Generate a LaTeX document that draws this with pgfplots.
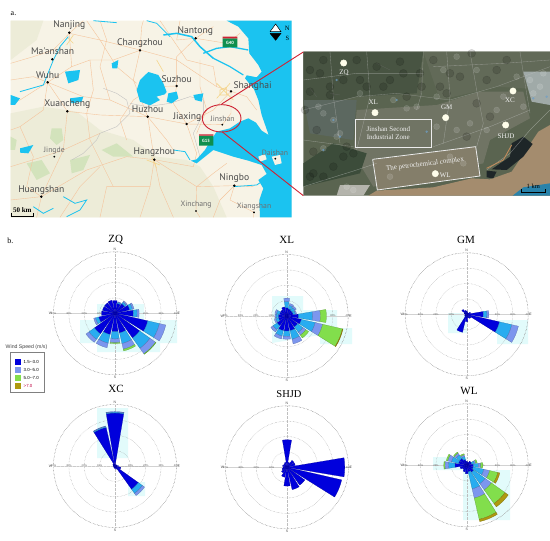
\documentclass[border=0pt]{standalone}
\usepackage{fontspec}
\usepackage{pgfplots}
\usepackage{pgfplotstable}
\usepgfplotslibrary{polar}
\pgfplotsset{compat=1.18}
\setmainfont{Liberation Serif}
\newfontfamily\mapfont{PT Sans}
\newfontfamily\legfont{Liberation Sans}

\definecolor{land}{HTML}{F7F3E6}
\definecolor{hill}{HTML}{EDECD8}
\definecolor{green1}{HTML}{D3E3BC}
\definecolor{sea}{HTML}{1BC3F0}
\definecolor{road}{HTML}{F5C49C}
\definecolor{urban}{HTML}{F5D58A}
\definecolor{cityt}{HTML}{4A4A4A}
\definecolor{shield}{HTML}{0E8F4E}
\definecolor{linered}{HTML}{CE2233}
\definecolor{ws1}{HTML}{0000DC}
\definecolor{ws2a}{HTML}{28ACF0}
\definecolor{ws2b}{HTML}{7C96EE}
\definecolor{ws3}{HTML}{82DE4C}
\definecolor{ws4}{HTML}{AE9A10}
\definecolor{patch}{HTML}{E2FBFB}
\definecolor{sb}{HTML}{5A6450}

% cumulative radii (percent) per compass direction
\pgfplotstableread{
dir r1 r2 r3 r4
0 8.3 8.3 8.3 8.3
22.5 6.6 7.7 7.7 7.7
45 7.7 9.8 9.8 9.8
67.5 9.8 12.7 12.7 12.7
90 12 15.7 15.7 15.7
112.5 21.9 33.9 33.9 33.9
135 19.7 32.4 32.8 32.8
157.5 13.1 24 25.1 25.1
180 12 19.2 19.7 19.7
202.5 14.2 23 23 23
225 16.4 23.2 23.2 23.2
247.5 10.9 14.2 14.2 14.2
270 8.7 8.7 8.7 8.7
292.5 8.3 8.3 8.3 8.3
315 8.3 8.3 8.3 8.3
337.5 8.7 8.7 8.7 8.7
}\tabZQ
\pgfplotstableread{
dir r1 r2 r3 r4
0 5.5 11.6 11.6 11.6
22.5 4.8 8.3 8.3 8.3
45 4.4 7.7 7.7 7.7
67.5 4.4 6.6 6.6 6.6
90 7.7 21.9 25.8 25.8
112.5 9.8 24 37.2 37.6
135 8.7 15.3 17.5 17.5
157.5 9.8 18.6 18.6 18.6
180 9.8 15.1 15.1 15.1
202.5 9.8 15.3 15.3 15.3
225 7.7 12.7 12.7 12.7
247.5 5.5 8.3 8.3 8.3
270 5.5 7.7 7.7 7.7
292.5 4.8 7.9 7.9 7.9
315 4.8 4.8 4.8 4.8
337.5 6.1 6.1 6.1 6.1
}\tabXL
\pgfplotstableread{
dir r1 r2 r3 r4
0 2.2 2.2 2.2 2.2
22.5 1.3 1.3 1.3 1.3
45 1.1 1.1 1.1 1.1
67.5 2.6 2.6 2.6 2.6
90 10.9 14.4 14.4 14.4
112.5 21.9 34.5 34.5 34.5
135 3.3 3.3 3.3 3.3
157.5 2.6 2.6 2.6 2.6
180 4.8 4.8 4.8 4.8
202.5 12 12 12 12
225 1.7 1.7 1.7 1.7
247.5 1.3 1.3 1.3 1.3
270 1.1 1.1 1.1 1.1
292.5 1.7 1.7 1.7 1.7
315 3.9 3.9 3.9 3.9
337.5 2.6 2.6 2.6 2.6
}\tabGM
\pgfplotstableread{
dir r1 r2 r3 r4
0 34.5 35.4 35.4 35.4
22.5 .9 .9 .9 .9
45 1.1 1.1 1.1 1.1
67.5 1.3 1.3 1.3 1.3
90 2.2 2.2 2.2 2.2
112.5 3.9 3.9 3.9 3.9
135 18.6 23.6 23.6 23.6
157.5 2.2 2.2 2.2 2.2
180 1.7 1.7 1.7 1.7
202.5 1.3 1.3 1.3 1.3
225 1.1 1.1 1.1 1.1
247.5 .9 .9 .9 .9
270 1.1 1.1 1.1 1.1
292.5 1.3 1.3 1.3 1.3
315 1.7 1.7 1.7 1.7
337.5 25.8 26.7 26.7 26.7
}\tabXC
\pgfplotstableread{
dir r1 r2 r3 r4
0 17.9 17.9 17.9 17.9
22.5 3.3 3.3 3.3 3.3
45 5.5 5.5 5.5 5.5
67.5 5.5 5.5 5.5 5.5
90 37.6 37.6 37.6 37.6
112.5 36.5 36.5 36.5 36.5
135 14.2 14.2 14.2 14.2
157.5 14.9 14.9 14.9 14.9
180 12.2 12.2 12.2 12.2
202.5 6.6 6.6 6.6 6.6
225 4.4 4.4 4.4 4.4
247.5 3.3 3.3 3.3 3.3
270 2.6 2.6 2.6 2.6
292.5 3 3 3 3
315 2.6 2.6 2.6 2.6
337.5 3.3 3.3 3.3 3.3
}\tabSHJD
\pgfplotstableread{
dir r1 r2 r3 r4
0 2.6 2.6 2.6 2.6
22.5 2.2 2.2 2.2 2.2
45 3.3 3.3 3.3 3.3
67.5 3.3 6.1 7 7
90 4.4 9.2 10.5 10.5
112.5 4.4 15.3 20.8 22.1
135 5.5 19.7 30.6 33.2
157.5 4.4 21.9 36.1 37.6
180 5.5 5.5 5.5 5.5
202.5 4.4 4.4 4.4 4.4
225 3.3 3.3 3.3 3.3
247.5 4.4 4.4 4.4 4.4
270 7.7 14.2 14.9 14.9
292.5 5.5 12.7 13.6 13.6
315 5.5 9.8 10.5 10.5
337.5 3.9 7 7.7 7.7
}\tabWL

% one ring segment of a sector: {dir}{from}{to}{colour}
\newcommand\band[4]{%
  \ifdim #2pt<#3pt
    \pgfmathsetmacro\aa{450-#1-9.5}\pgfmathsetmacro\ab{450-#1-4.75}%
    \pgfmathsetmacro\ac{450-#1}\pgfmathsetmacro\ad{450-#1+4.75}%
    \pgfmathsetmacro\ae{450-#1+9.5}%
    \addplot[fill=#4,draw=#4!70!black,line width=0.2pt] coordinates {
      (\aa,#2) (\aa,#3) (\ab,#3) (\ac,#3) (\ad,#3) (\ae,#3) (\ae,#2)
      (\ad,#2) (\ac,#2) (\ab,#2) (\aa,#2)};
  \fi}
\newcommand\roses[1]{%
  \addplot[gray!35,line width=0.6pt,no markers] coordinates {(180,40)(180,0)(0,0)(0,40)};
  \node[rl] at (axis cs:180,10) {10\%};\node[rl] at (axis cs:180,20) {20\%};
  \node[rl] at (axis cs:180,30) {30\%};\node[rl] at (axis cs:180,40) {40\%};
  \node[rl] at (axis cs:0,10) {10\%};\node[rl] at (axis cs:0,20) {20\%};
  \node[rl] at (axis cs:0,30) {30\%};\node[rl] at (axis cs:0,40) {40\%};
  \pgfplotsforeachungrouped \i in {0,...,15}{%
    \pgfplotstablegetelem{\i}{dir}\of#1\let\vd\pgfplotsretval
    \pgfplotstablegetelem{\i}{r1}\of#1\let\va\pgfplotsretval
    \pgfplotstablegetelem{\i}{r2}\of#1\let\vb\pgfplotsretval
    \pgfplotstablegetelem{\i}{r3}\of#1\let\vc\pgfplotsretval
    \pgfplotstablegetelem{\i}{r4}\of#1\let\ve\pgfplotsretval
    \pgfmathsetmacro\vm{\va+0.65*(\vb-\va)}%
    \band{\vd}{0.3}{\va}{ws1}%
    \band{\vd}{\va}{\vm}{ws2a}%
    \band{\vd}{\vm}{\vb}{ws2b}%
    \band{\vd}{\vb}{\vc}{ws3}%
    \band{\vd}{\vc}{\ve}{ws4}%
  }%
}
\tikzset{rl/.style={font=\legfont\fontsize{2.6}{3}\selectfont,text=gray!70!black,inner sep=0.3pt}}
\pgfplotsset{
  windrose/.style={
    scale only axis,width=123pt,height=123pt,anchor=center,
    xmin=0,xmax=360,ymin=0,ymax=40,clip=false,
    xtick={0,90,180,270},xticklabels={E,N,W,S},
    ytick={10,20,30,40},yticklabels={},
    x tick label style={font=\legfont\fontsize{3.5}{4}\selectfont,text=gray!60!black,inner sep=1pt},
    grid=both,
    x grid style={gray!50,line width=0.35pt,densely dotted},
    y grid style={gray!80,line width=0.4pt,densely dotted},
    major tick length=0pt,
    axis line style={gray!80,line width=0.4pt,densely dotted},
  },
  mapaxis/.style={scale only axis,hide axis,y dir=reverse,clip=true},
  rd/.style={road,line width=0.4pt,no markers},
  ub/.style={urban,line width=0.6pt,no markers},
  rv/.style={sea,line width=0.8pt,no markers},
  lk/.style={fill=sea,draw=none,no markers},
  cdot/.style={only marks,mark=*,mark size=1pt,black,mark options={fill=black}},
  sr/.style={line width=0.35pt,no markers,opacity=.45},
}

\begin{document}
\begin{tikzpicture}
\path[use as bounding box] (0pt,0pt) rectangle (550pt,541pt);

% page level axis in pixel coordinates: labels, patches, legend
\begin{axis}[at={(0pt,0pt)},anchor=south west,scale only axis,hide axis,y dir=reverse,
  width=550pt,height=541pt,xmin=0,xmax=550,ymin=0,ymax=541,clip=false]
\addplot[fill=patch,draw=none] coordinates {(97,304)(144,304)(144,320)(177,320)(177,343)(160,343)(160,352)(97,352)(97,343)(80,343)(80,320)(97,320)(97,304)};
\addplot[fill=patch,draw=none] coordinates {(272,296)(303,296)(303,310)(337,310)(337,328)(352,328)(352,344)(320,344)(320,335)(272,343)(272,296)};
\addplot[fill=patch,draw=none] coordinates {(448,313)(467,313)(467,333)(448,333)(448,313)};
\addplot[fill=patch,draw=none] coordinates {(497,320)(528,320)(528,344)(497,344)(497,320)};
\addplot[fill=patch,draw=none] coordinates {(97,408)(128,408)(128,458)(97,458)(97,408)};
\addplot[fill=patch,draw=none] coordinates {(128,482)(145,482)(145,496)(128,496)(128,482)};
\addplot[fill=patch,draw=none] coordinates {(433,457)(467,457)(467,470)(433,470)(433,457)};
\addplot[fill=patch,draw=none] coordinates {(463,470)(510,470)(510,520)(463,520)(463,470)};

\node[font=\fontsize{8}{9}\selectfont] at (13.5,13.5) {a.};
\node[font=\fontsize{8}{9}\selectfont] at (10.5,241) {b.};
\node[font=\fontsize{11}{12}\selectfont] at (115.7,240) {ZQ};
\node[font=\fontsize{11}{12}\selectfont] at (286.7,239.5) {XL};
\node[font=\fontsize{11}{12}\selectfont] at (466,239.5) {GM};
\node[font=\fontsize{11}{12}\selectfont] at (116,389) {XC};
\node[font=\fontsize{10.5}{11}\selectfont,inner sep=0pt] at (289,394) {SHJD};
\node[font=\fontsize{11}{12}\selectfont] at (469,391) {WL};

% legend
\node[font=\legfont\fontsize{5.2}{6}\selectfont,text=black!75] at (26.5,346.7) {Wind Speed (m/s)};
\draw[gray,line width=0.5pt,fill=white] (axis cs:10,352) rectangle (axis cs:44.3,392.5);
\addplot[only marks,mark=square*,mark size=2.4pt,ws1] coordinates {(17.3,362)};
\addplot[only marks,mark=square*,mark size=2.4pt,ws2b] coordinates {(17.3,370)};
\addplot[only marks,mark=square*,mark size=2.4pt,ws3] coordinates {(17.3,378)};
\addplot[only marks,mark=square*,mark size=2.4pt,ws4] coordinates {(17.3,386)};
\node[font=\legfont\fontsize{4.4}{5}\selectfont,anchor=west,inner sep=0pt] at (23.5,362) {1.5--3.0};
\node[font=\legfont\fontsize{4.4}{5}\selectfont,anchor=west,inner sep=0pt] at (23.5,370) {3.0--5.0};
\node[font=\legfont\fontsize{4.4}{5}\selectfont,anchor=west,inner sep=0pt] at (23.5,378) {5.0--7.0};
\node[font=\legfont\fontsize{4.4}{5}\selectfont,anchor=west,inner sep=0pt,text=purple] at (23.5,386) {>7.0};
\end{axis}

% map, in coordinates of a 3x crop
\begin{axis}[mapaxis,at={(10.67pt,323.67pt)},anchor=south west,width=281pt,height=196.67pt,
  xmin=32,xmax=875,ymin=62,ymax=652]
\addplot[fill=land,draw=none] coordinates {(32,62)(875,62)(875,652)(32,652)(32,62)};
\addplot[fill=hill,draw=none] coordinates {(32,340)(130,320)(230,335)(300,390)(400,420)(470,470)(560,480)(600,500)(640,560)(680,652)(32,652)(32,340)};
\addplot[fill=hill,draw=none] coordinates {(32,62)(130,62)(110,120)(32,180)(32,62)};
\addplot[fill=green1,draw=none] coordinates {(155,385)(185,385)(190,420)(170,435)(150,415)(155,385)};
\addplot[fill=green1,draw=none] coordinates {(305,450)(350,430)(400,470)(340,470)(305,450)};
\addplot[fill=green1,draw=none] coordinates {(80,490)(125,480)(150,520)(110,540)(80,490)};
\addplot[fill=green1,draw=none] coordinates {(210,480)(270,465)(250,510)(215,520)(210,480)};
\addplot[fill=green1,draw=none] coordinates {(32,410)(50,420)(45,450)(32,450)(32,410)};
% roads
\addplot[rd] coordinates {(32,190)(100,170)(160,150)(208,100)(250,62)};
\addplot[rd] coordinates {(208,100)(300,120)(420,150)(530,180)(650,260)(693,274)};
\addplot[rd] coordinates {(143,247)(202,334)(300,345)(443,350)(560,372)(640,330)(693,274)};
\addplot[rd] coordinates {(208,100)(215,200)(143,247)(60,300)(32,310)};
\addplot[rd] coordinates {(420,151)(425,80)(430,62)};
\addplot[rd] coordinates {(420,151)(400,240)(443,350)(463,479)(450,560)(420,652)};
\addplot[rd] coordinates {(530,258)(520,310)(560,372)(590,460)(580,500)(463,479)};
\addplot[rd] coordinates {(463,479)(380,470)(260,510)(124,590)(32,600)};
\addplot[rd] coordinates {(202,334)(190,450)(124,590)(110,652)};
\addplot[rd] coordinates {(463,479)(590,560)(703,557)(760,560)};
\addplot[rd] coordinates {(703,557)(690,600)(762,637)(760,652)};
\addplot[rd] coordinates {(590,560)(588,633)(600,652)};
\addplot[rd] coordinates {(587,115)(530,170)(530,258)};
\addplot[rd] coordinates {(587,115)(680,130)(720,100)};
\addplot[rd] coordinates {(300,62)(320,120)(300,200)(330,300)};
\addplot[rd] coordinates {(693,274)(740,290)(770,330)};
\addplot[rd] coordinates {(650,260)(640,200)(560,180)(480,62)};
\addplot[rd] coordinates {(32,500)(130,470)(190,450)(300,400)};
\addplot[rd] coordinates {(560,372)(667,374)(693,340)(693,274)};
\addplot[rd] coordinates {(300,652)(320,560)(450,560)};
\addplot[rd] coordinates {(32,240)(100,230)(143,247)(250,290)(330,300)(443,350)};
\addplot[rd] coordinates {(260,62)(300,120)(350,200)(410,250)};
\addplot[rd] coordinates {(540,62)(530,120)(587,115)(640,80)};
\addplot[rd] coordinates {(600,180)(600,260)(620,330)(590,400)};
\addplot[rd] coordinates {(420,151)(340,180)(270,180)(215,200)};
\addplot[rd] coordinates {(270,180)(280,270)(260,340)(270,420)(310,500)(340,560)};
\addplot[rd] coordinates {(143,247)(130,330)(60,380)(32,390)};
\addplot[rd] coordinates {(60,380)(100,470)(80,560)(124,590)};
\addplot[rd] coordinates {(463,479)(480,560)(520,652)};
\addplot[rd] coordinates {(590,560)(640,520)(680,490)};
\addplot[rd] coordinates {(703,557)(660,600)(640,652)};
\addplot[rd] coordinates {(180,652)(240,560)(300,500)};
\addplot[rd] coordinates {(380,420)(360,360)(400,300)(460,260)(530,258)};
\addplot[rd] coordinates {(443,350)(500,420)(520,450)};
\addplot[ub] coordinates {(660,270)(660,285)(680,285)(680,262)(660,270)};
\addplot[ub] coordinates {(650,250)(700,300)};
\addplot[ub] coordinates {(690,250)(650,295)};
\addplot[ub] coordinates {(200,110)(220,130)};
\addplot[ub] coordinates {(220,105)(200,135)};
\addplot[ub] coordinates {(440,480)(480,495)};
\addplot[ub] coordinates {(455,470)(470,505)};
\addplot[ub] coordinates {(470,180)(490,215)};
\addplot[gray!50,line width=0.35pt,no markers] coordinates {(310,265)(350,280)(380,300)(390,340)(350,380)(300,400)(290,420)(250,460)(215,480)};
\addplot[gray!50,line width=0.35pt,no markers] coordinates {(600,470)(580,400)(610,340)(610,300)(570,290)(510,310)(440,320)(390,310)};
% sea, estuary, bay
\addplot[lk] coordinates {(680,62)(715,80)(745,115)(748,160)(775,195)(785,215)(770,232)(740,226)(735,235)(762,268)(775,300)(785,345)(806,405)(785,392)(768,368)(745,355)(720,365)(690,385)(650,395)(630,425)(615,450)(590,478)(572,482)(590,490)(640,450)(700,470)(745,482)(785,495)(800,522)(775,540)(790,565)(778,600)(780,652)(875,652)(875,62)(680,62)};
\addplot[fill=land,draw=none] coordinates {(632,150)(690,165)(750,195)(778,220)(745,222)(690,190)(640,170)(632,150)};
\addplot[fill=land,draw=none] coordinates {(775,470)(795,462)(800,478)(780,485)(775,470)};
\addplot[fill=land,draw=none] coordinates {(815,470)(840,465)(845,490)(825,495)(815,470)};
\addplot[fill=land,draw=none] coordinates {(700,490)(745,495)(740,510)(715,505)(700,490)};
\addplot[rv,line width=1.5pt] coordinates {(490,105)(530,100)(575,110)(600,140)(640,175)};
\addplot[rv,line width=1.3pt] coordinates {(610,160)(650,145)(690,140)(745,150)};
\addplot[rv,line width=1.2pt] coordinates {(640,175)(690,200)(730,225)};
% lakes
\addplot[lk] coordinates {(420,240)(445,216)(475,225)(490,250)(500,276)(480,300)(450,316)(420,305)(410,270)(420,240)};
\addplot[fill=land,draw=none] coordinates {(470,290)(500,282)(510,290)(485,305)(470,290)};
\addplot[lk] coordinates {(505,280)(530,275)(535,295)(515,310)(500,305)(505,280)};
\addplot[lk] coordinates {(195,215)(240,210)(235,240)(205,250)(195,215)};
\addplot[lk] coordinates {(335,190)(355,180)(352,205)(337,205)(335,190)};
\addplot[lk] coordinates {(210,295)(250,290)(245,305)(215,310)(210,295)};
\addplot[lk] coordinates {(32,285)(60,295)(45,315)(32,315)(32,285)};
\addplot[lk] coordinates {(60,445)(100,435)(85,460)(60,458)(60,445)};
\addplot[lk] coordinates {(580,285)(610,280)(605,305)(585,300)(580,285)};
\addplot[rv] coordinates {(205,110)(180,140)(160,180)(130,255)(60,275)};
\addplot[rv] coordinates {(280,62)(350,68)};
\addplot[rv] coordinates {(440,62)(470,70)(510,110)};
\addplot[rv] coordinates {(190,590)(225,610)(260,600)(240,630)(200,650)};
\addplot[rv] coordinates {(520,450)(555,455)(570,480)};
\addplot[rv] coordinates {(700,560)(770,555)(785,545)};
\addplot[rv] coordinates {(100,620)(130,640)(160,625)};
% green shields
\addplot[fill=shield,draw=none] coordinates {(668,115)(712,115)(712,142)(668,142)(668,115)};
\addplot[fill=linered,draw=none] coordinates {(668,110)(712,110)(712,115)(668,115)(668,110)};
\addplot[fill=shield,draw=none] coordinates {(597,407)(640,407)(640,437)(597,437)(597,407)};
\addplot[fill=linered,draw=none] coordinates {(597,403)(640,403)(640,407)(597,407)(597,403)};
\node[text=white,font=\mapfont\bfseries\fontsize{4.5}{5}\selectfont] at (690,130) {G40};
\node[text=white,font=\mapfont\bfseries\fontsize{4.5}{5}\selectfont] at (618,423) {G15};
% north arrow
\addplot[fill=white,draw=black,line width=0.5pt] coordinates {(810,95)(827,72)(843,95)(810,95)};
\addplot[fill=black,draw=black] coordinates {(810,100)(843,100)(827,121)(810,100)};
\node[font=\fontsize{6.5}{7}\selectfont] at (862,86) {N};
\node[font=\fontsize{6.5}{7}\selectfont] at (862,114) {S};
% scale
\addplot[black,line width=0.6pt,no markers] coordinates {(35,638)(35,650)(100,650)(100,638)};
\node[font=\fontsize{7}{8}\selectfont\bfseries] at (67,630) {50 km};
% cities
\addplot[cdot] coordinates {(208,98)(587,115)(420,151)(157,178)(143,247)(530,258)(693,274)(202,334)(443,350)(560,372)(124,590)(463,479)(703,557)};
\addplot[cdot,mark size=0.7pt] coordinates {(667,374)(163,470)(826,476)(588,633)(762,637)};
\foreach \x/\y/\t in {208/76/Nanjing,586/92/Nantong,420/128/Changzhou,158/155/Ma'anshan,143/225/Wuhu,530/236/Suzhou,758/258/Shanghai,202/312/Xuancheng,443/328/Huzhou,562/350/Jiaxing,463/457/Hangzhou,703/535/Ningbo,124/570/Huangshan}{
  \edef\tmp{\noexpand\node[text=cityt,font=\noexpand\mapfont\noexpand\fontsize{9.6}{10}\noexpand\selectfont,inner sep=0pt] at (axis cs:\x,\y) {\t};}\tmp}
\foreach \x/\y/\t in {668/357/Jinshan,163/452/Jingde,825/457/Daishan,588/615/Xinchang,762/620/Xiangshan}{
  \edef\tmp{\noexpand\node[text=cityt!80,font=\noexpand\mapfont\noexpand\fontsize{7.7}{8}\noexpand\selectfont,inner sep=0pt] at (axis cs:\x,\y) {\t};}\tmp}
\draw[linered,line width=0.9pt] (axis cs:665,355) ellipse [x radius=58,y radius=41];
\end{axis}

% satellite picture, in coordinates of a 3x crop
\begin{axis}[mapaxis,at={(303.33pt,345.33pt)},anchor=south west,width=246.67pt,height=144pt,
  xmin=40,xmax=780,ymin=65,ymax=497]
\addplot[fill=sb,draw=none] coordinates {(40,65)(780,65)(780,497)(40,497)(40,65)};
\addplot[fill={rgb,255:red,72;green,84;blue,66},draw=none] coordinates {(40,65)(400,65)(380,190)(200,200)(40,240)(40,65)};
\addplot[fill={rgb,255:red,98;green,106;blue,88},draw=none] coordinates {(400,65)(780,65)(780,180)(620,170)(450,210)(400,65)};
\addplot[fill={rgb,255:red,112;green,116;blue,100},draw=none] coordinates {(200,240)(440,225)(570,185)(700,185)(720,265)(600,330)(580,400)(250,470)(190,370)(200,240)};
\addplot[fill={rgb,255:red,92;green,104;blue,96},draw=none] coordinates {(40,210)(200,210)(190,330)(60,310)(40,210)};
\addplot[fill={rgb,255:red,60;green,76;blue,58},draw=none] coordinates {(40,400)(130,340)(230,370)(210,430)(40,470)(40,400)};
\addplot[fill={rgb,255:red,132;green,126;blue,106},draw=none] coordinates {(250,390)(556,350)(570,438)(262,480)(250,390)};
\addplot[fill={rgb,255:red,160;green,170;blue,168},draw=none] coordinates {(700,125)(780,125)(780,225)(725,215)(700,125)};
\addplot[fill={rgb,255:red,180;green,180;blue,172},draw=none] coordinates {(150,465)(240,465)(220,497)(140,497)(150,465)};
\addplot[fill={rgb,255:red,164;green,140;blue,110},draw=none] coordinates {(780,285)(745,305)(705,365)(665,425)(600,448)(545,445)(430,472)(260,482)(235,497)(780,497)(780,285)};
\addplot[fill={rgb,255:red,30;green,38;blue,40},draw=none] coordinates {(665,340)(700,320)(728,342)(700,380)(650,420)(605,418)(660,380)(665,340)};
\addplot[fill={rgb,255:red,30;green,38;blue,40},draw=none] coordinates {(590,422)(620,425)(610,445)(590,442)(590,422)};
\addplot[fill={rgb,255:red,40;green,130;blue,170},draw=none] coordinates {(668,497)(700,472)(780,460)(780,497)(668,497)};
% mottling: dark fields, bright roofs, blue roofs
\addplot[only marks,mark=*,mark size=4pt,black,opacity=.14,mark options={draw=none}] coordinates {(60,185)(120,195)(390,130)(395,170)(260,110)(330,95)(70,430)(100,440)(190,370)(170,350)(80,300)(120,170)(200,90)(300,150)(450,170)(510,140)(545,70)(620,120)(560,220)(480,130)(350,200)(60,120)(100,90)(160,150)(230,170)(60,440)(130,410)(160,380)(210,150)(280,170)(340,130)(430,90)(470,190)(590,150)(650,90)(600,260)(530,320)(90,130)(45,240)(70,365)};
\addplot[only marks,mark=*,mark size=3pt,white,opacity=.13,mark options={draw=none}] coordinates {(85,230)(130,270)(100,250)(310,210)(350,235)(380,230)(500,300)(540,280)(590,300)(620,240)(700,230)(720,150)(750,170)(760,130)(730,190)(440,290)(140,320)(150,310)(100,355)(170,470)(190,480)(480,380)(520,400)(300,440)(460,120)(500,80)(640,200)(560,120)(210,190)(440,200)(680,140)};
\addplot[only marks,mark=*,mark size=1pt,color={rgb,255:red,110;green,160;blue,200},opacity=.6,mark options={draw=none}] coordinates {(100,360)(150,320)(130,270)(140,150)(320,210)(410,305)(730,205)(770,200)};
% roads and field edges
\addplot[sr,gray!20] coordinates {(40,470)(200,420)(260,400)};
\addplot[sr,gray!15] coordinates {(590,420)(660,370)(720,300)(780,240)};
\addplot[sr,gray!40] coordinates {(400,65)(395,190)(380,240)};
\addplot[sr,gray!40] coordinates {(540,65)(560,180)(580,280)(560,350)};
\addplot[sr,gray!45] coordinates {(40,240)(200,200)(320,190)(480,210)(620,170)(780,110)};
\addplot[sr,gray!40] coordinates {(230,65)(240,200)(200,360)};
\addplot[sr,gray!40] coordinates {(120,65)(130,200)(150,340)};
\addplot[sr,gray!45] coordinates {(690,65)(700,130)(720,250)};
\addplot[sr,gray!40] coordinates {(430,110)(640,100)(780,90)};
\addplot[sr,gray!40] coordinates {(40,150)(200,130)(400,130)};
\addplot[sr,gray!35] coordinates {(470,65)(480,200)(460,340)};
\addplot[sr,gray!35] coordinates {(430,350)(600,290)(720,240)};
\addplot[sr,gray!35] coordinates {(40,330)(190,350)};
\addplot[sr,black!55] coordinates {(390,110)(395,160)(390,200)};
\addplot[sr,black!55] coordinates {(260,100)(300,120)};
\addplot[sr,black!55] coordinates {(60,175)(80,200)};
\addplot[sr,black!55] coordinates {(120,190)(150,195)};
\addplot[sr,color={rgb,255:red,200;green,140;blue,90},line width=0.8pt,opacity=1] coordinates {(590,415)(640,390)(665,345)};
% zone frames
\addplot[white!85!gray,line width=0.8pt] coordinates {(195,267)(425,267)(425,353)(195,353)(195,267)};
\addplot[white!85!gray,line width=0.8pt] coordinates {(248,388)(557,350)(570,438)(262,480)(248,388)};
% sites
\addplot[only marks,mark=*,mark size=3.2pt,white!92!yellow] coordinates {(161,99)(255,248)(467,263)(669,183)(647,285)(436,431)};
\foreach \x/\y/\t in {162/128/ZQ,250/218/XL,470/233/GM,660/210/XC,648/318/SHJD,466/437/WL}{
  \edef\tmp{\noexpand\node[text=white!90!gray,font=\noexpand\fontsize{7}{8}\noexpand\selectfont,inner sep=0pt] at (axis cs:\x,\y) {\t};}\tmp}
\node[text=white!90!gray,font=\fontsize{7}{8}\selectfont,align=center,inner sep=0pt] at (295,309) {Jinshan Second\\Industrial Zone};
\node[text=white!90!gray,font=\fontsize{7}{8}\selectfont,rotate=7,inner sep=0pt] at (405,403) {The petrochemical complex};
\addplot[black,line width=0.6pt,no markers] coordinates {(695,478)(695,487)(765,487)(765,478)};
\node[font=\fontsize{6.5}{7}\selectfont,inner sep=0pt] at (730,470) {1 km};
\end{axis}

\draw[linered,line width=0.9pt] (221.7pt,437pt) -- (303.33pt,489pt);
\draw[linered,line width=0.9pt] (222pt,409.3pt) -- (303.33pt,345.33pt);

% wind roses
\begin{polaraxis}[windrose,at={(115pt,227.7pt)}]\roses{\tabZQ}\end{polaraxis}
\begin{polaraxis}[windrose,at={(286.7pt,225pt)}]\roses{\tabXL}\end{polaraxis}
\begin{polaraxis}[windrose,at={(466.7pt,226.7pt)}]\roses{\tabGM}\end{polaraxis}
\begin{polaraxis}[windrose,at={(115pt,75pt)}]\roses{\tabXC}\end{polaraxis}
\begin{polaraxis}[windrose,at={(287pt,73.7pt)}]\roses{\tabSHJD}\end{polaraxis}
\begin{polaraxis}[windrose,at={(466.7pt,75.7pt)}]\roses{\tabWL}\end{polaraxis}
\end{tikzpicture}
\end{document}
